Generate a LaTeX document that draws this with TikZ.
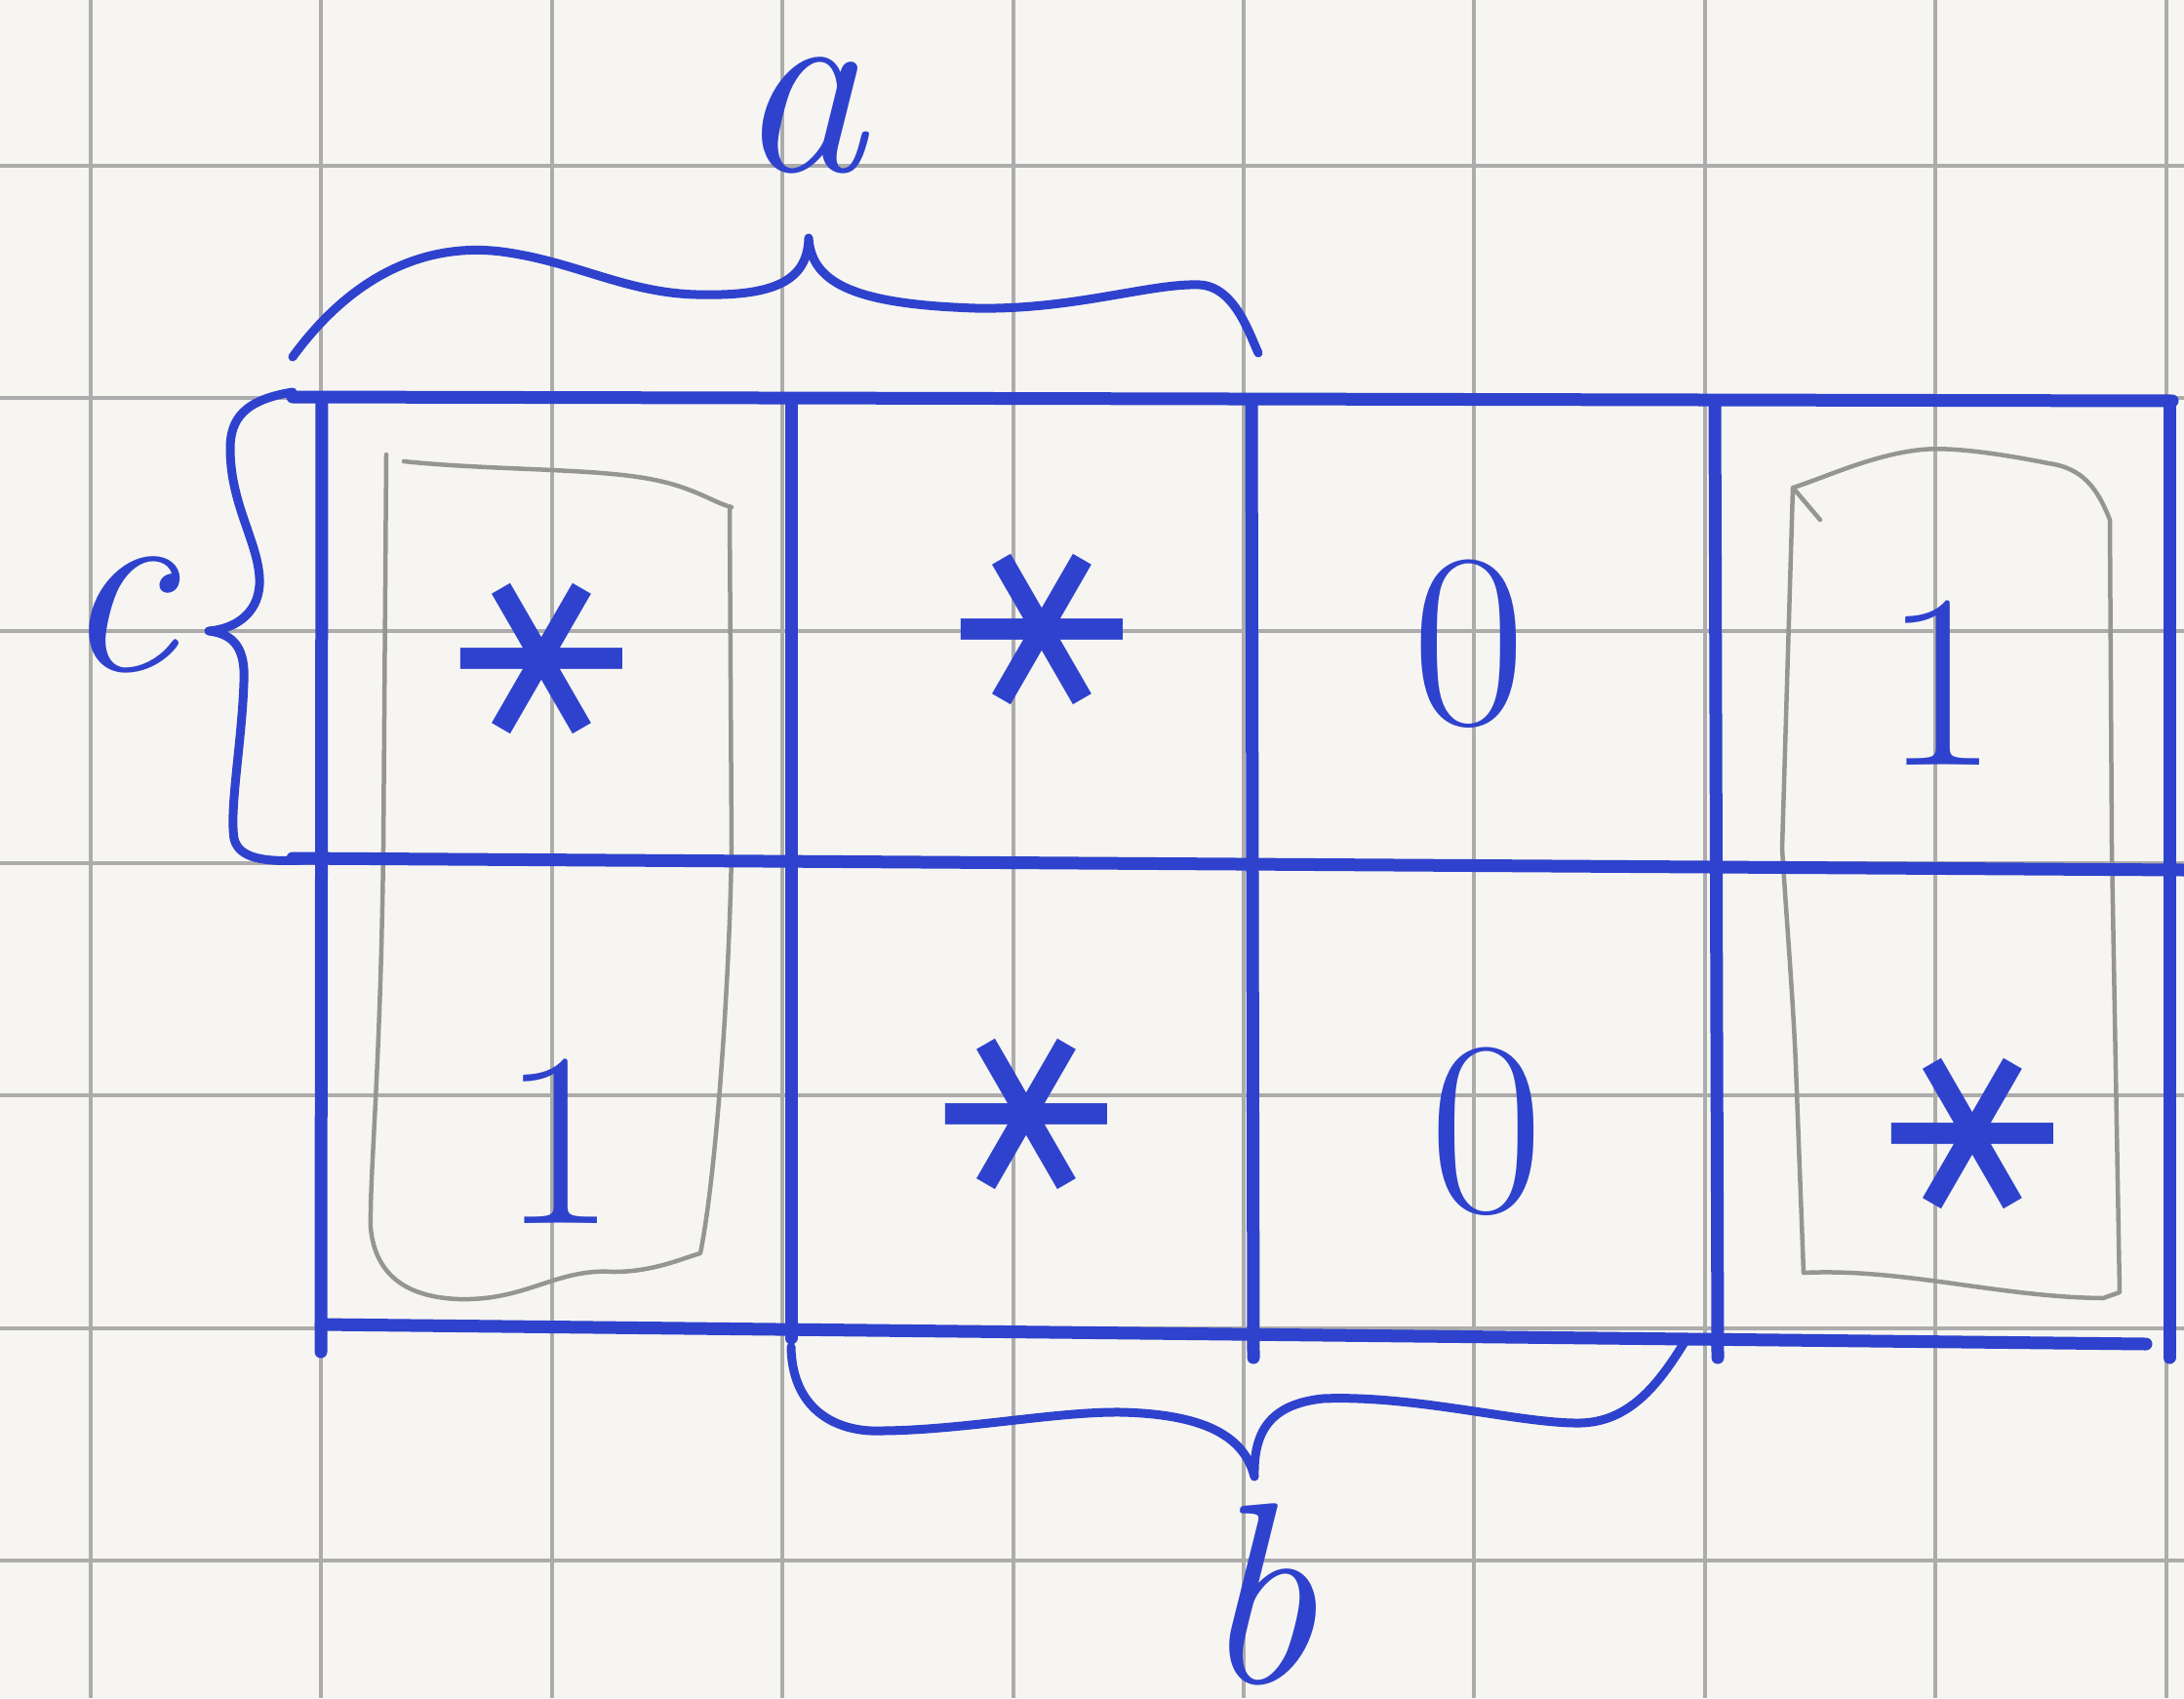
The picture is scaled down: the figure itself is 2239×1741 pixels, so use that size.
\documentclass[tikz,border=0pt]{standalone}
\usepackage{fontspec}
\newfontfamily\symfont{DejaVu Sans}
\definecolor{paper}{RGB}{246,245,241}
\definecolor{ink}{RGB}{46,66,205}
\definecolor{gridc}{RGB}{172,172,172}
\definecolor{pencil}{RGB}{150,150,145}
\begin{document}
\begin{tikzpicture}[x=1pt,y=-1pt,
  gridline/.style={draw=gridc, line width=4pt},
  inkline/.style={draw=ink, line width=13pt, line cap=round},
  bracepath/.style={draw=ink, line width=9pt, line cap=round, line join=round},
  loopline/.style={draw=pencil, line width=4.5pt, line cap=round, line join=round},
  entry/.style={text=ink, font=\fontsize{255}{255}\selectfont, inner sep=0pt},
  star/.style={text=ink, font=\symfont\fontsize{265}{265}\selectfont, inner sep=0pt, rotate=90},
  lbl/.style={text=ink, font=\itshape\fontsize{265}{265}\selectfont, inner sep=20pt}]
\fill[paper] (0,0) rectangle (2239,1741);
\useasboundingbox (0,0) rectangle (2239,1741);
% grid paper
\foreach \i in {0,...,9} \draw[gridline] ({93+236.4*\i},0) -- ({93+236.4*\i},1741);
\foreach \j in {0,...,6} \draw[gridline] (0,{170+238.3*\j}) -- (2239,{170+238.3*\j});
% pencil loops
\draw[loopline] (396,466) -- (393,870) .. controls (390,1100) and (379,1200) .. (380,1259)
  .. controls (385,1310) and (420,1330) .. (470,1332)
  .. controls (540,1334) and (570,1300) .. (629,1304)
  .. controls (670,1304) and (700,1290) .. (718,1285)
  .. controls (735,1200) and (748,1000) .. (750,870) -- (748,521);
\draw[loopline] (414,473) .. controls (500,482) and (600,480) .. (660,490)
  .. controls (710,498) and (730,515) .. (750,520);
\draw[loopline] (1866,533) -- (1838,500) -- (1827,870) .. controls (1832,950) and (1838,1020) .. (1841,1092)
  -- (1849,1305) .. controls (1950,1300) and (2050,1330) .. (2156,1331) -- (2173,1325)
  -- (2165,870) -- (2163,533) .. controls (2150,500) and (2135,480) .. (2100,475)
  .. controls (2050,465) and (2000,458) .. (1970,461) .. controls (1920,466) and (1870,490) .. (1838,500);
% Karnaugh map lines
\coordinate (tl) at (300,407); \coordinate (tr) at (2227,411);
\draw[inkline] (tl) -- (tr);
\draw[inkline] (330,408) -- (329,1386);
\draw[inkline] (811,410) -- (811,1372);
\draw[inkline] (1283,410) -- (1285,1392);
\draw[inkline] (1758,411) -- (1761,1392);
\draw[inkline] (2224,411) -- (2224,1392);
\draw[inkline] (300,880) -- (2239,892);
\draw[inkline] (329,1358) -- (2200,1378);
% braces
\draw[bracepath] (300,366) .. controls (370,270) and (450,250) .. (514,258)
  .. controls (590,268) and (640,300) .. (714,302)
  .. controls (790,304) and (828,290) .. (829,244)
  .. controls (832,292) and (880,312) .. (1000,316)
  .. controls (1100,318) and (1180,290) .. (1230,292)
  .. controls (1265,294) and (1280,340) .. (1290,362);
\draw[bracepath] (300,402) .. controls (250,410) and (236,430) .. (236,460)
  .. controls (236,520) and (268,560) .. (266,600)
  .. controls (264,630) and (240,645) .. (214,647)
  .. controls (240,650) and (252,665) .. (250,700)
  .. controls (248,760) and (235,830) .. (240,860)
  .. controls (245,880) and (270,884) .. (310,882);
\draw[bracepath] (811,1381) .. controls (812,1440) and (850,1465) .. (893,1467)
  .. controls (980,1468) and (1080,1447) .. (1150,1448)
  .. controls (1230,1450) and (1275,1470) .. (1286,1514)
  .. controls (1285,1470) and (1300,1440) .. (1356,1434)
  .. controls (1450,1430) and (1560,1460) .. (1620,1459)
  .. controls (1670,1458) and (1700,1420) .. (1727,1376);
% labels
\node[lbl] (la) at (822,118) {a};
\node[lbl] (lc) at (122,630) {c};
\node[lbl] (lb) at (1290,1635) {b};
% cell entries
\node[star]  (c11) at (555,675) {∗};
\node[star]  (c12) at (1068,645) {∗};
\node[entry] (c13) at (1506,660) {0};
\node[entry] (c14) at (1990,700) {1};
\node[entry] (c21) at (573,1170) {1};
\node[star]  (c22) at (1052,1142) {∗};
\node[entry] (c23) at (1524,1160) {0};
\node[star]  (c24) at (2022,1162) {∗};
\end{tikzpicture}
\end{document}
